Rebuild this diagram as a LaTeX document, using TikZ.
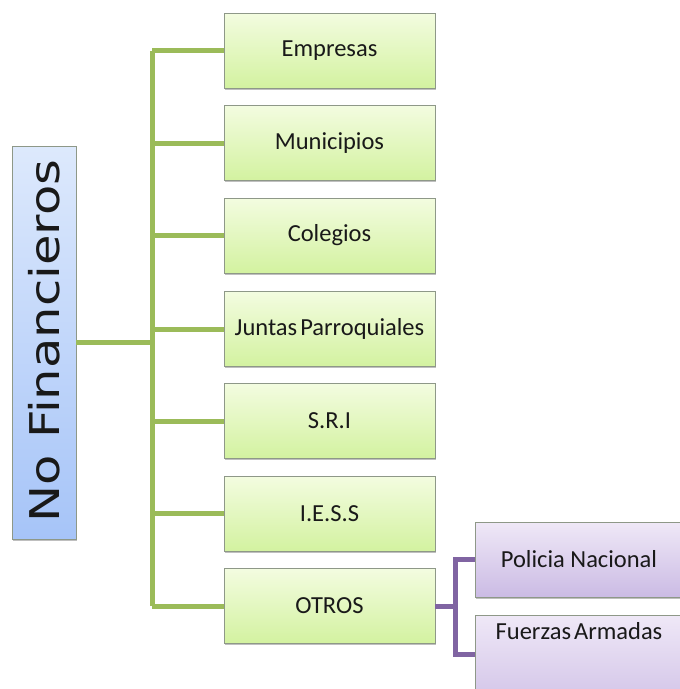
\documentclass[tikz,border=0pt]{standalone}
\usepackage{fontspec}
\setmainfont{Carlito}
\newfontfamily\rootfont{DejaVu Sans}
\usetikzlibrary{shadows,calc}
\definecolor{gtop}{HTML}{F3FCE0}
\definecolor{gbot}{HTML}{D3F2A0}
\definecolor{gline}{HTML}{9BBB59}
\definecolor{btop}{HTML}{DDE9FC}
\definecolor{bbot}{HTML}{A6C4F8}
\definecolor{ptop}{HTML}{EFE8F7}
\definecolor{pbot}{HTML}{CBBBE4}
\definecolor{pline}{HTML}{8064A2}
\definecolor{boxedge}{HTML}{8E9888}
\tikzset{
  x=1pt, y=-1pt,
  shade box/.style={draw=boxedge, line width=0.8pt, rectangle, inner sep=0pt,
    drop shadow={shadow xshift=1.2pt, shadow yshift=-1.5pt, opacity=0.25, fill=black}},
  boxfont/.style={font=\fontsize{24.5}{27}\selectfont, text=black!90},
  gbox/.style={shade box, boxfont, top color=gtop, bottom color=gbot,
    minimum width=211pt, minimum height=75pt},
  pbox/.style={shade box, boxfont, top color=ptop, bottom color=pbot,
    minimum width=208pt, minimum height=75pt},
  rootbox/.style={shade box, top color=btop, bottom color=bbot,
    minimum width=64pt, minimum height=393pt},
  gconn/.style={draw=gline, line width=5pt},
  pconn/.style={draw=pline, line width=5pt},
}
\begin{document}
\begin{tikzpicture}
\useasboundingbox (0,0) rectangle (680,689);
\clip (0,0) rectangle (680,689);
\node[rootbox] (root) at (44,342.5) {};
\node[rotate=90, text=black!90] (roottxt) at (44,341) {\scalebox{1.21}[1]{\rootfont\fontsize{41}{44}\selectfont No Financieros}};
\node[gbox] (e) at (329.5,50.5) {Empresas};
\node[gbox] (m) at (329.5,143) {Municipios};
\node[gbox] (c) at (329.5,235.5) {Colegios};
\node[gbox] (j) at (329.5,329) {Juntas\hspace{3pt}Parroquiales};
\node[gbox] (s) at (329.5,421) {S.R.I};
\node[gbox] (i) at (329.5,513.5) {I.E.S.S};
\node[gbox] (o) at (329.5,606) {OTROS};
\node[pbox] (pn) at (579,559.5) {Policia Nacional};
\node[pbox, minimum height=110pt, label={[anchor=north, yshift=-4pt, boxfont]north:Fuerzas\hspace{3pt}Armadas}] (fa) at (579,670) {};
\coordinate (bus) at (152,0);
\coordinate (pbus) at (455,0);
\coordinate (faw) at ($(fa.north west)+(0,40)$);
\draw[gconn] (root.east) -- (root.east -| bus);
\draw[gconn] (bus |- e.west) -- (bus |- o.west);
\foreach \n in {e,m,c,j,s,i,o} { \draw[gconn] (bus |- \n.west) -- (\n.west); }
\draw[pconn] (o.east) -- (o.east -| pbus);
\draw[pconn] (pn.west) -- (pbus |- pn.west) -- (pbus |- faw) -- (faw);
\end{tikzpicture}
\end{document}
